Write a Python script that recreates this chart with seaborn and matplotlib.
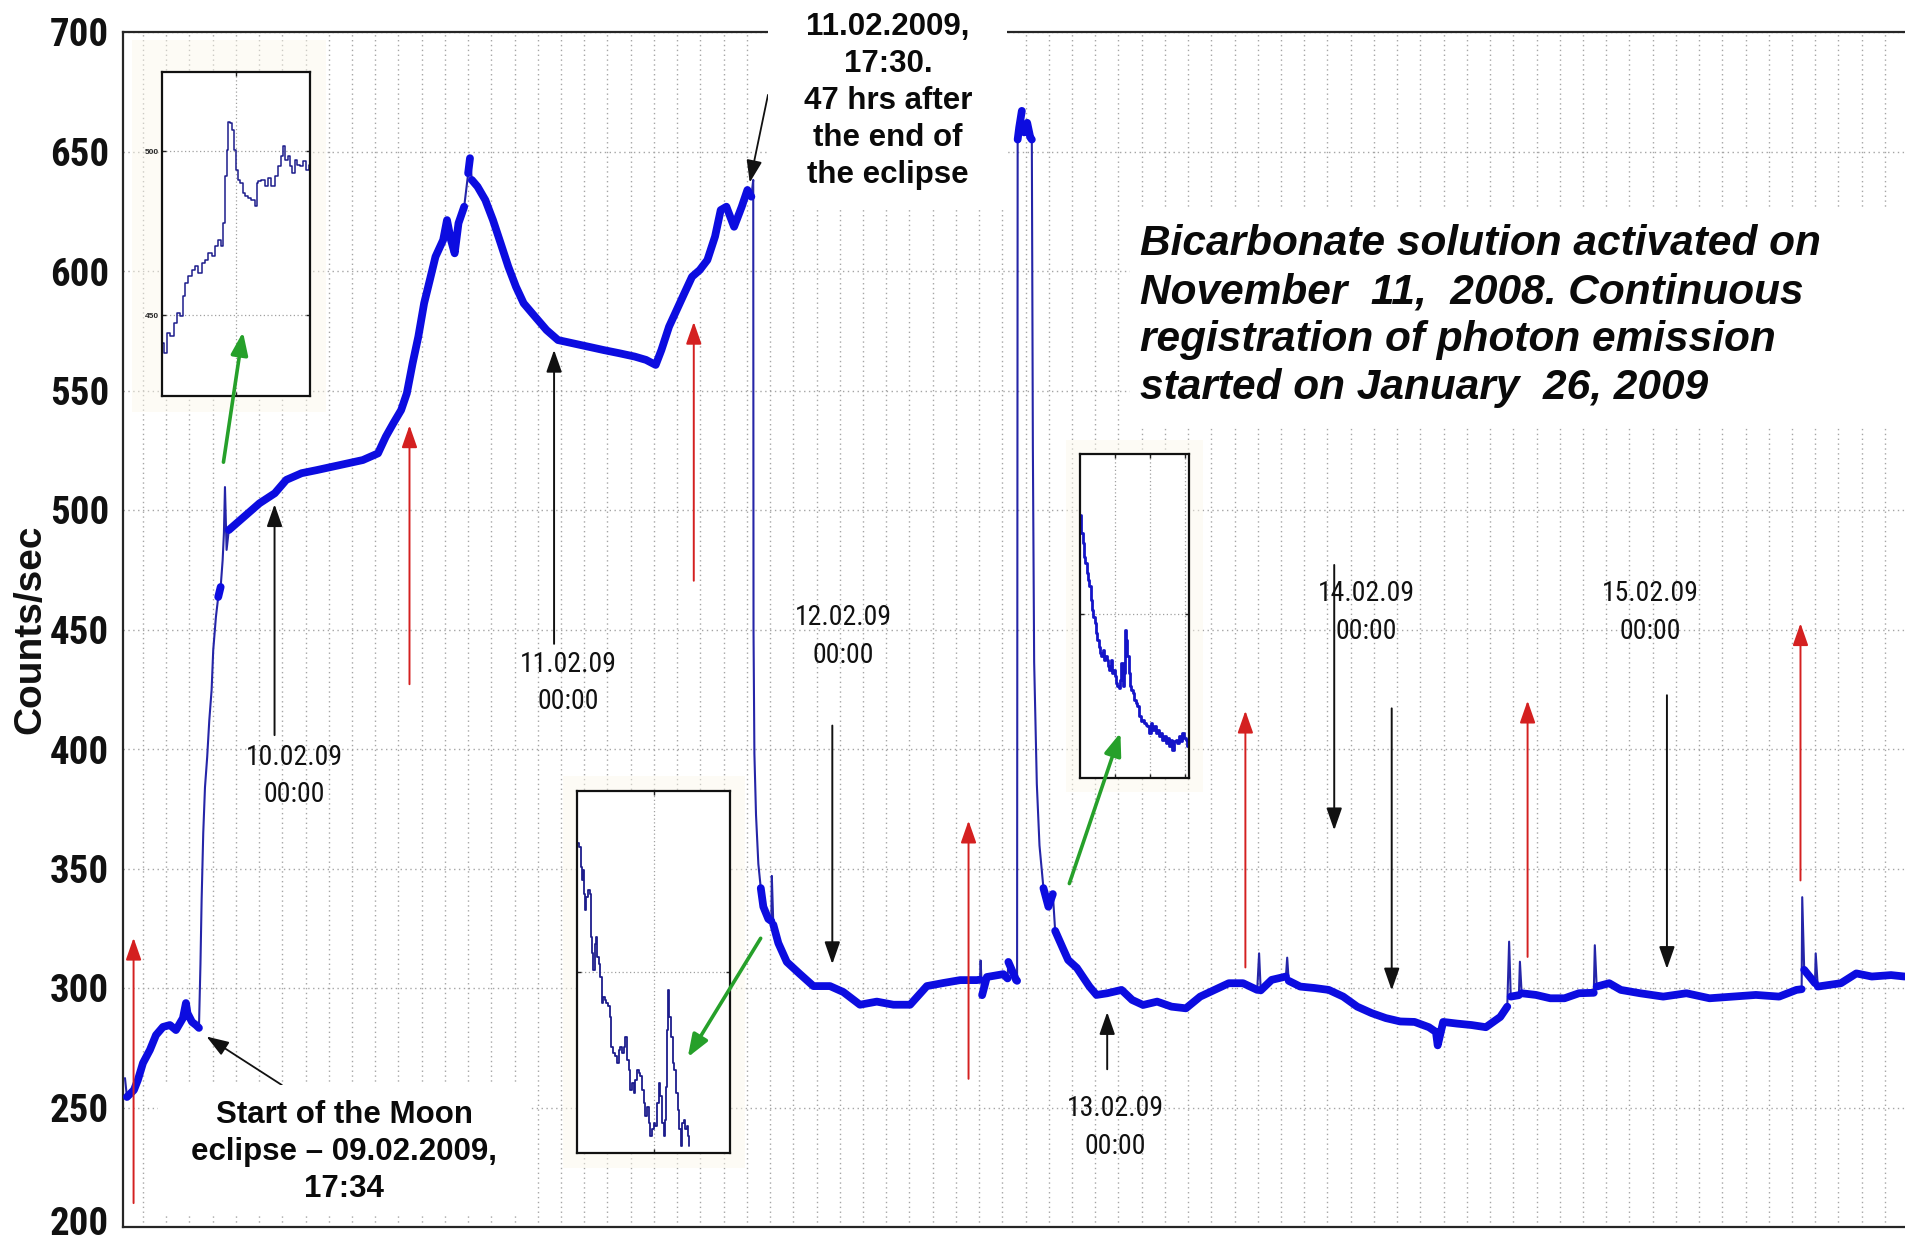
import numpy as np
import pandas as pd
import matplotlib
matplotlib.use("Agg")
import matplotlib.pyplot as plt
import seaborn as sns
from matplotlib import font_manager
from matplotlib.patches import Rectangle, FancyArrowPatch
from matplotlib.transforms import ScaledTranslation

# ---------------------------------------------------------------- data
# hours counted from 10.02.2009 00:00, counts per second
hours = [-12.88, -12.71, -12.11, -11.77, -11.33, -10.73, -10.21, -9.61, -9.01, -8.49,
         -7.89, -7.63, -7.50, -7.11, -6.77, -6.51,
         -6.38, -6.28, -6.14, -5.99, -5.80, -5.62, -5.42, -5.28, -5.05, -4.85,
         -4.64, -4.47, -4.36, -4.27, -4.13, -3.94,
         -3.28, -2.29, -1.30, 0.02, 1.01, 2.33, 3.64, 4.96, 6.28, 7.60,
         8.91, 9.58, 10.23, 10.90, 11.39, 11.89, 12.38, 12.88, 13.37, 13.86,
         14.52, 14.85, 15.19, 15.51, 15.84, 16.33, 16.67, 16.83, 16.99, 17.48,
         18.15, 18.81, 19.47, 20.13, 20.79, 21.45, 22.43, 23.42, 24.41, 25.73,
         27.05, 28.36, 29.68, 31.01, 31.99, 32.82, 33.31, 33.97, 34.63, 35.29,
         35.95, 36.61, 37.27, 37.93, 38.42, 38.91, 39.57, 40.23, 40.72, 41.06,
         41.22, 41.245, 41.32, 41.46, 41.66, 41.87, 42.09, 42.52, 42.78, 42.82, 42.95,
         43.38, 44.11, 45.25, 46.40, 47.83, 48.98, 50.41, 51.86, 53.29, 54.73,
         56.17, 57.60, 59.04, 60.47, 60.75, 60.80, 60.93, 61.34, 62.76, 63.12, 63.19, 63.86,
         63.94, 63.99, 64.12, 64.35, 64.55, 64.81, 65.07, 65.21, 65.26, 65.30,
         65.41, 65.64, 65.87, 66.21, 66.64, 67.02, 67.22, 67.93, 68.34, 69.09,
         70.17, 70.78, 71.70, 72.94, 73.85, 74.79, 76.00, 77.24, 78.48, 79.71,
         80.94, 82.17, 83.40, 84.62, 84.78, 84.92, 85.86, 87.09, 87.20, 87.33,
         88.32, 89.55, 90.78, 92.02, 93.23, 94.47, 95.70, 96.93, 98.17, 99.40,
         100.01, 100.16, 100.63, 101.84, 103.08, 104.31, 105.55, 106.15, 106.31, 106.45,
         107.15, 107.24, 107.39, 108.62, 109.85, 111.08, 112.32, 113.60, 113.69, 113.85,
         114.93, 115.93, 117.59, 119.58, 121.58, 123.57, 125.56, 127.56, 129.56, 131.05,
         131.50, 131.55, 131.72, 132.65, 132.71, 132.89, 134.88, 136.21, 137.54, 139.20,
         140.37]
counts = [262.3, 254.4, 257.3, 261.5, 268.6, 274.1, 280.3, 283.7, 284.5, 282.4,
          287.4, 293.7, 289.5, 285.8, 284.5, 283.3,
          310.0, 336.8, 364.8, 384.0, 396.7, 412.0, 424.7, 441.4, 455.2, 463.6,
          467.8, 479.0, 490.4, 509.6, 483.3, 491.6,
          494.4, 498.6, 502.8, 507.0, 512.6, 515.4, 516.7, 518.1, 519.5, 520.9,
          523.7, 530.7, 536.3, 541.8, 548.8, 561.4, 572.5, 586.5, 596.2, 606.0,
          613.0, 621.3, 613.0, 607.4, 620.0, 626.9, 640.9, 647.2, 638.1, 635.3,
          629.7, 621.3, 611.6, 601.8, 593.4, 586.5, 580.9, 575.3, 571.1, 569.7,
          568.3, 566.9, 565.6, 564.2, 562.8, 560.7, 566.9, 576.7, 583.7, 590.7,
          597.6, 600.4, 604.6, 614.4, 625.5, 626.9, 618.5, 626.9, 633.9, 631.1,
          638.1, 449.4, 398.1, 372.4, 351.9, 341.8, 334.0, 328.9, 328.0, 346.9, 326.5,
          318.8, 310.9, 305.8, 300.8, 300.8, 298.3, 293.0, 294.3, 293.0, 293.0,
          300.8, 302.1, 303.3, 303.3, 303.5, 311.5, 297.0, 304.6, 305.8, 304.0, 310.9, 303.3,
          303.0, 655.0, 660.0, 667.0, 658.0, 662.0, 656.0, 655.0, 590.0, 526.0,
          436.4, 385.4, 359.6, 341.8, 334.0, 339.3, 323.9, 316.1, 311.7, 308.4,
          300.6, 297.1, 297.8, 299.2, 295.0, 292.9, 294.3, 292.2, 291.5, 296.4,
          299.2, 302.0, 302.0, 299.2, 314.5, 299.0, 303.4, 304.8, 312.7, 303.0,
          300.6, 300.0, 299.2, 296.4, 292.2, 289.5, 287.4, 286.0, 285.8, 283.6,
          281.6, 276.0, 285.8, 285.1, 284.5, 283.6, 287.9, 292.2, 319.4, 296.4,
          297.0, 311.0, 297.8, 297.1, 295.7, 295.7, 297.8, 298.0, 317.9, 300.6,
          302.0, 299.2, 297.8, 296.4, 297.8, 295.7, 296.4, 297.1, 296.4, 299.2,
          299.5, 338.0, 307.6, 302.0, 314.5, 300.6, 302.0, 306.1, 304.8, 305.4,
          304.8]

# inset 1: eclipse onset (position across the panel in %, counts/sec)
inset1_x = [0.7, 2.2, 4.5, 6.7, 8.9, 11.2, 13.4, 14.5, 16.8, 19.0, 21.3, 23.5, 25.7, 28.0,
            30.2, 32.4, 34.7, 36.9, 39.1, 40.9, 41.8, 43.2, 44.1, 45.0, 46.3, 48.1, 49.4,
            50.8, 52.1, 53.7, 55.3, 57.0, 59.3, 61.5, 63.8, 64.2, 66.0, 68.2, 70.5, 72.7,
            74.9, 77.2, 79.4, 81.2, 82.6, 83.9, 85.7, 87.2, 88.8, 90.6, 92.4, 94.2, 96.2,
            98.4, 99.6]
inset1_y = [441.6, 438.5, 444.6, 443.6, 447.7, 450.7, 449.7, 455.8, 459.9, 461.9, 463.9,
            464.9, 462.9, 466.0, 467.0, 469.0, 468.0, 471.0, 473.1, 471.0, 478.2, 492.4,
            500.5, 509.1, 508.6, 506.6, 500.5, 494.4, 491.4, 490.3, 487.3, 486.3, 485.8,
            485.3, 483.2, 490.3, 490.9, 491.4, 489.3, 491.9, 489.3, 492.4, 495.4, 498.5,
            501.5, 497.5, 498.5, 495.4, 493.4, 497.5, 495.9, 495.4, 497.0, 494.4, 495.9]

# inset 2: decay after 11.02.2009 17:30
inset2_x = [0.0, 0.65, 2.17, 2.83, 3.48, 4.35, 5.0, 5.65, 6.52, 7.83, 8.70, 9.35, 10.0,
            10.87, 12.17, 13.04, 13.70, 14.78, 15.87, 16.52, 17.39, 18.70, 19.57, 20.87,
            21.74, 23.04, 23.91, 25.22, 26.74, 27.83, 28.91, 30.0, 31.09, 32.17, 33.26,
            34.35, 35.43, 36.52, 37.61, 38.70, 39.78, 40.87, 41.96, 43.04, 44.13, 45.22,
            46.30, 47.39, 48.48, 49.57, 50.65, 51.74, 52.83, 53.91, 55.0, 56.09, 57.17,
            57.83, 58.70, 59.35, 60.0, 60.87, 62.17, 63.04, 64.35, 65.22, 66.52, 67.39,
            68.26, 69.13, 70.22, 71.30, 72.17, 73.04, 73.48]
inset2_y = [353.5, 351.3, 350.7, 347.4, 345.2, 346.9, 343.0, 340.3, 342.5, 343.6, 343.0,
            335.8, 333.1, 330.3, 334.7, 335.8, 332.5, 331.4, 329.2, 324.8, 325.9, 325.4,
            324.8, 324.3, 322.6, 317.6, 316.5, 316.0, 314.9, 317.1, 317.6, 316.5, 317.6,
            319.3, 315.4, 313.8, 310.5, 311.6, 309.9, 312.1, 313.8, 313.2, 312.7, 310.5,
            308.3, 306.1, 307.7, 305.0, 302.8, 303.9, 305.0, 304.4, 308.3, 311.6, 309.4,
            305.0, 302.8, 305.5, 311.0, 320.4, 327.0, 322.6, 319.3, 314.9, 313.8, 309.9,
            307.2, 303.9, 301.1, 305.0, 305.5, 303.9, 304.4, 302.8, 301.1]

# inset 3: decay after the second burst
inset3_x = [0.61, 1.83, 3.05, 4.27, 5.49, 6.71, 7.93, 9.15, 10.37, 11.59, 12.80, 14.02,
            15.24, 16.46, 17.68, 18.90, 20.12, 21.34, 22.56, 23.78, 25.0, 26.22, 27.44,
            28.66, 29.88, 31.10, 32.32, 33.54, 34.76, 35.98, 37.20, 38.41, 39.63, 40.85,
            41.77, 42.68, 43.90, 45.12, 46.34, 47.56, 48.78, 50.30, 51.83, 53.35, 54.88,
            56.40, 57.93, 59.45, 60.98, 62.50, 64.02, 65.55, 67.07, 68.60, 70.12, 71.65,
            73.17, 74.70, 76.22, 77.74, 79.27, 80.79, 82.32, 83.84, 85.37, 86.89, 88.41,
            89.94, 91.46, 92.99, 94.51, 96.04, 97.56, 99.09, 100.0]
inset3_y = [462.0, 450.5, 444.3, 436.0, 431.8, 425.6, 421.4, 417.3, 408.9, 402.7, 398.5,
            394.4, 388.1, 384.0, 379.8, 375.7, 373.6, 377.8, 371.5, 373.6, 371.5, 367.4,
            365.3, 371.5, 363.2, 365.3, 361.1, 357.0, 354.9, 353.8, 359.0, 369.4, 354.9,
            363.2, 390.2, 384.0, 373.6, 363.2, 354.9, 352.8, 350.7, 346.6, 344.5, 342.4,
            336.2, 333.1, 334.1, 332.0, 331.0, 329.9, 325.8, 332.0, 327.9, 329.9, 325.8,
            327.9, 323.7, 325.8, 321.6, 323.7, 319.5, 322.7, 317.5, 321.6, 315.4, 320.6,
            321.6, 319.5, 323.7, 320.6, 325.8, 322.7, 321.6, 317.5, 314.4]

y_ticks = [200, 250, 300, 350, 400, 450, 500, 550, 600, 650, 700]
y_ticklabels = ["200", "250", "300", "350", "400", "450", "500", "550", "600", "650", "700"]

# midnight markers: label, label centre, arrow tail, arrow head
day_labels = ["10.02.09\n00:00", "11.02.09\n00:00", "12.02.09\n00:00",
              "13.02.09\n00:00", "14.02.09\n00:00", "15.02.09\n00:00"]
day_label_pos = [(1.67, 388.8), (25.3, 427.7), (48.98, 447.0),
                 (72.4, 241.6), (93.98, 457.1), (118.5, 457.1)]
day_arrows = [((0.0, 405.8), (0.0, 502.4)),
              ((24.07, 444.0), (24.07, 567.0)),
              ((48.03, 409.8), (48.03, 310.0)),
              ((71.7, 266.0), (71.7, 289.9)),
              ((91.25, 477.0), (91.25, 366.0)),
              ((96.2, 417.0), (96.2, 299.0)),
              ((119.9, 422.5), (119.9, 308.0))]

# red upward markers: x (hours), tail, head (counts/sec)
red_x = [-12.14, 11.62, 36.1, 59.76, 83.6, 107.9, 131.4]
red_tail = [210.0, 427.1, 470.4, 262.0, 308.6, 313.0, 345.0]
red_head = [321.0, 535.4, 578.7, 370.0, 416.0, 420.2, 452.6]

# green pointers to the close-up panels: tail, head
green_arrows = [((-4.4, 520.0), (-2.72, 574.5)),
                ((41.86, 320.8), (35.58, 271.0)),
                ((68.44, 343.7), (72.84, 406.8))]

eclipse_text = "Start of the Moon\neclipse \u2013 09.02.2009,\n17:34"
after_text = "11.02.2009,\n17:30.\n47 hrs after\nthe end of\nthe eclipse"
info_text = ("Bicarbonate solution activated on\nNovember  11,  2008. Continuous\n"
             "registration of photon emission\nstarted on January  26, 2009")

# ---------------------------------------------------------------- style
sns.set_theme(style="white")
plt.rcParams["font.family"] = ["Liberation Sans", "DejaVu Sans"]

# pick a condensed face for numbers if one is installed
fonts = font_manager.fontManager.ttflist
names = {f.name for f in fonts}
narrow_kw = None
for cand in ["Liberation Sans Narrow", "Nimbus Sans Narrow", "Arial Narrow",
             "Roboto Condensed", "Open Sans Condensed", "DejaVu Sans Condensed"]:
    if cand in names:
        narrow_kw = dict(fontfamily=cand)
        break
if narrow_kw is None and any(f.name == "DejaVu Sans" and "condensed" in str(f.stretch)
                             for f in fonts):
    narrow_kw = dict(fontfamily="DejaVu Sans", fontstretch="condensed")
have_narrow = narrow_kw is not None
if narrow_kw is None:
    narrow_kw = dict(fontfamily="Liberation Sans")

W, H = 1905, 1243
fig = plt.figure(figsize=(W / 100, H / 100), dpi=100)
fig.patch.set_facecolor("white")


def fx(px):
    return px / W


def fy(py):
    return 1 - py / H


ax = fig.add_axes([fx(123), fy(1227), 1 - fx(123), (1227 - 32) / H])
ax.set_facecolor("white")

x_lo, x_hi = -13.05, 140.4
ax.set_xlim(x_lo, x_hi)
ax.set_ylim(200, 700)
ax.set_xticks(np.arange(-11.33, x_hi, 2.0))
ax.set_yticks(y_ticks)
ax.set_yticklabels(y_ticklabels, fontweight="bold", fontsize=28 if have_narrow else 24,
                   color="#111111", **narrow_kw)
ax.tick_params(axis="x", direction="in", length=9, width=1.4, color="#222222",
               labelbottom=False)
ax.tick_params(axis="y", direction="in", length=6, width=1.2, color="#222222", pad=10)
ax.grid(True, color="#a5a5a5", linestyle=(0, (1, 2.5)), linewidth=1.0)
for side in ["left", "bottom", "top"]:
    ax.spines[side].set_visible(True)
    ax.spines[side].set_color("#262626")
    ax.spines[side].set_linewidth(1.6)
ax.spines["right"].set_visible(False)

# lift the lowest tick label a little so it stays inside the canvas
low_label = ax.yaxis.get_major_ticks()[0].label1
low_label.set_transform(low_label.get_transform()
                        + ScaledTranslation(0, 5 / 72, fig.dpi_scale_trans))

# faint cream halos behind the close-up panels
for (x0, y0, x1, y1) in [(132, 40, 326, 412), (563, 776, 745, 1168), (1066, 440, 1203, 792)]:
    fig.add_artist(Rectangle((fx(x0), fy(y1)), fx(x1 - x0), (y1 - y0) / H,
                             transform=fig.transFigure, facecolor="#fcf8ea",
                             edgecolor="none", alpha=0.45, zorder=1))

# ---------------------------------------------------------------- main trace
trace = pd.DataFrame({"hours": hours, "counts": counts})
sns.lineplot(data=trace, x="hours", y="counts", ax=ax, estimator=None, sort=False,
             color="#2525a8", linewidth=1.5, zorder=3)

# slow stretches carry a broad noise band, fast jumps stay thin
h_arr = np.asarray(hours)
c_arr = np.asarray(counts)
slow = np.abs(np.diff(c_arr) / np.diff(h_arr)) < 40
start = None
for i, ok in enumerate(list(slow) + [False]):
    if ok and start is None:
        start = i
    elif not ok and start is not None:
        seg = trace.iloc[start:i + 1]
        sns.lineplot(data=seg, x="hours", y="counts", ax=ax, estimator=None, sort=False,
                     color="#0c0ce0", linewidth=5.6, zorder=4)
        start = None
ax.set_xlabel("")
ax.set_ylabel("")

# ---------------------------------------------------------------- markers
arrow_kw = dict(shrinkA=0, shrinkB=0, mutation_scale=17)
for x, t, hd in zip(red_x, red_tail, red_head):
    ax.annotate("", xy=(x, hd), xytext=(x, t),
                arrowprops=dict(arrowstyle="-|>,head_length=0.8,head_width=0.28",
                                color="#d42020", lw=1.4, **arrow_kw), zorder=5)

for (tail, head) in day_arrows:
    ax.annotate("", xy=head, xytext=tail,
                arrowprops=dict(arrowstyle="-|>,head_length=0.8,head_width=0.28",
                                color="#111111", lw=1.4, **arrow_kw), zorder=5)

for txt, (x, y) in zip(day_labels, day_label_pos):
    ax.text(x, y, txt, ha="center", va="center", fontsize=20 if have_narrow else 18.5,
            color="#111111", linespacing=1.5, zorder=6, **narrow_kw)

ax.annotate("", xy=(-5.86, 279.7), xytext=(0.63, 259.4),
            arrowprops=dict(arrowstyle="-|>,head_length=0.8,head_width=0.28",
                            color="#111111", lw=1.3, **arrow_kw), zorder=5)
ax.annotate("", xy=(40.92, 637.0), xytext=(42.49, 673.7),
            arrowprops=dict(arrowstyle="-|>,head_length=0.8,head_width=0.28",
                            color="#111111", lw=1.3, **arrow_kw), zorder=5)

# green pointers are drawn on top of the close-up panels
for (tail, head) in green_arrows:
    fig.add_artist(FancyArrowPatch(tail, head, transform=ax.transData,
                                   arrowstyle="-|>,head_length=0.8,head_width=0.3",
                                   color="#26a02a", lw=2.6, zorder=11, **arrow_kw))

# ---------------------------------------------------------------- text blocks
for (x0, y0, x1, y1) in [(158, 1085, 529, 1215), (768, 0, 1007, 208), (1130, 209, 1905, 428)]:
    fig.add_artist(Rectangle((fx(x0), fy(y1)), fx(x1 - x0), (y1 - y0) / H,
                             transform=fig.transFigure, facecolor="white",
                             edgecolor="none", zorder=7))

fig.text(fx(344), fy(1152), eclipse_text, ha="center", va="center", fontsize=22.5,
         fontweight="bold", color="#0a0a0a", linespacing=1.3, zorder=8)
fig.text(fx(888), fy(101), after_text, ha="center", va="center", fontsize=22.5,
         fontweight="bold", color="#0a0a0a", linespacing=1.3, zorder=8)
fig.text(fx(1140), fy(316), info_text, ha="left", va="center", fontsize=30.5,
         fontweight="bold", fontstyle="italic", color="#0a0a0a", linespacing=1.25,
         zorder=8)

fig.text(fx(30), fy(629), "Counts/sec", rotation=90, ha="center", va="center",
         fontsize=28, fontweight="bold", color="#111111")


# ---------------------------------------------------------------- close-up panels
def panel(x0, y0, x1, y1, xs, ys, ylim, ygrid, xgrid, color, lw):
    pax = fig.add_axes([fx(x0), fy(y1), fx(x1 - x0), (y1 - y0) / H], zorder=9)
    pax.set_facecolor("white")
    sns.lineplot(x=xs, y=ys, ax=pax, estimator=None, sort=False, color=color,
                 linewidth=lw, drawstyle="steps-mid")
    pax.set_xlim(0, 100)
    pax.set_ylim(*ylim)
    pax.set_xticks(xgrid)
    pax.set_yticks(ygrid)
    pax.grid(True, color="#a0a0a0", linestyle=(0, (1, 2)), linewidth=0.9)
    pax.tick_params(direction="in", length=3, width=1, color="#222222",
                    labelbottom=False, labelleft=False, top=True, right=True,
                    bottom=True, left=True)
    for s in pax.spines.values():
        s.set_visible(True)
        s.set_color("#111111")
        s.set_linewidth(1.6)
    pax.set_xlabel("")
    pax.set_ylabel("")
    return pax


p1 = panel(162, 72, 310, 396, inset1_x, inset1_y, (425.4, 524.2), [450, 500], [50.3],
           "#1c1c8c", 1.1)
p1.tick_params(labelleft=True, labelsize=6, pad=2)
p1.set_yticklabels(["450", "500"], fontweight="bold", fontsize=6)
panel(577, 791, 730, 1153, inset2_x, inset2_y, (300, 360), [330], [50.65], "#1c1c8c", 1.3)
panel(1080, 454, 1189, 778, inset3_x, inset3_y, (297.7, 500), [400], [32.0, 64.0, 96.0],
      "#1414c8", 2.0)

fig.savefig("out.png", dpi=100, facecolor="white")
